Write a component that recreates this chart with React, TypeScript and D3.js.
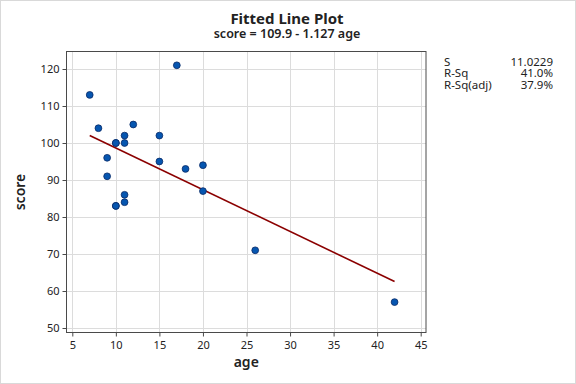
import React, { useEffect, useRef } from 'react';
import * as d3 from 'd3';

// age at first word vs. score
const ages = [15, 26, 10, 9, 15, 20, 18, 11, 8, 20, 7, 9, 10, 11, 11, 10, 12, 42, 17, 11, 10];
const scores = [95, 71, 83, 91, 102, 87, 93, 100, 104, 94, 113, 96, 83, 84, 102, 100, 105, 57, 121, 86, 100];
const xTicks = [5, 10, 15, 20, 25, 30, 35, 40, 45];
const yTicks = [50, 60, 70, 80, 90, 100, 110, 120];
const intercept = 109.9;
const slope = -1.127;
const statLabels = ['S', 'R-Sq', 'R-Sq(adj)'];
const statValues = ['11.0229', '41.0%', '37.9%'];

const W = 576;
const H = 384;
const font = "'Noto Sans', 'Open Sans', sans-serif";

const App = () => {
  const svgRef = useRef<SVGSVGElement>(null);

  useEffect(() => {
    const svg = d3.select(svgRef.current);
    svg.selectAll('*').remove();

    const left = 66.5;
    const right = 426;
    const top = 51.5;
    const bottom = 332.5;

    const x = d3.scaleLinear().domain([5, 45]).range([72.3, 420.7]);
    const y = d3.scaleLinear().domain([50, 120]).range([328, 69]);

    svg.append('rect')
      .attr('x', 0.5).attr('y', 0.5).attr('width', W - 1).attr('height', H - 1)
      .attr('fill', 'white').attr('stroke', '#d9d9d9');

    // grid
    const grid = svg.append('g').attr('stroke', '#dcdcdc').attr('stroke-width', 1);
    xTicks.forEach((t) => {
      grid.append('line')
        .attr('x1', Math.round(x(t)) + 0.5).attr('x2', Math.round(x(t)) + 0.5)
        .attr('y1', top).attr('y2', bottom);
    });
    yTicks.forEach((t) => {
      grid.append('line')
        .attr('x1', left).attr('x2', right)
        .attr('y1', Math.round(y(t)) + 0.5).attr('y2', Math.round(y(t)) + 0.5);
    });

    // frame
    svg.append('rect')
      .attr('x', left).attr('y', top).attr('width', right - left).attr('height', bottom - top)
      .attr('fill', 'none').attr('stroke', '#4a4a4a').attr('stroke-width', 1);

    // axes
    const xAxis = d3.axisBottom(x).tickValues(xTicks).tickSize(4).tickSizeOuter(0);
    const yAxis = d3.axisLeft(y).tickValues(yTicks).tickSize(4).tickSizeOuter(0);
    const gx = svg.append('g').attr('transform', `translate(0,${bottom})`).call(xAxis);
    const gy = svg.append('g').attr('transform', `translate(${left},0)`).call(yAxis);
    [gx, gy].forEach((g) => {
      g.select('.domain').remove();
      g.selectAll('line').attr('stroke', '#4a4a4a');
      g.selectAll('text').attr('font-family', font).attr('font-size', 11).attr('fill', '#222');
    });
    gx.selectAll('text').attr('dy', '0.9em');

    // fitted line
    const ext = d3.extent(ages) as [number, number];
    const line = d3.line<number>().x((d) => x(d)).y((d) => y(intercept + slope * d));
    svg.append('path')
      .attr('d', line(ext))
      .attr('fill', 'none').attr('stroke', '#8b0000').attr('stroke-width', 1.6);

    // points
    svg.append('g').selectAll('circle')
      .data(ages.map((a, i) => [a, scores[i]]))
      .join('circle')
      .attr('cx', (d) => x(d[0])).attr('cy', (d) => y(d[1])).attr('r', 3.4)
      .attr('fill', '#0656b0').attr('stroke', '#0a2a66').attr('stroke-width', 0.8);

    // titles
    svg.append('text').attr('x', 287).attr('y', 24).attr('text-anchor', 'middle')
      .attr('font-family', font).attr('font-size', 15).attr('font-weight', 'bold').attr('fill', '#222')
      .text('Fitted Line Plot');
    svg.append('text').attr('x', 287).attr('y', 38).attr('text-anchor', 'middle')
      .attr('font-family', font).attr('font-size', 12.5).attr('font-weight', 600).attr('fill', '#222')
      .text(`score = ${intercept} - ${Math.abs(slope)} age`);

    svg.append('text').attr('x', (left + right) / 2).attr('y', 367).attr('text-anchor', 'middle')
      .attr('font-family', font).attr('font-size', 14).attr('font-weight', 600).attr('fill', '#222')
      .text('age');
    svg.append('text')
      .attr('transform', `translate(25,${(top + bottom) / 2}) rotate(-90)`)
      .attr('text-anchor', 'middle')
      .attr('font-family', font).attr('font-size', 14).attr('font-weight', 600).attr('fill', '#222')
      .text('score');

    // stats table, one text per column
    const labelCol = svg.append('text').attr('font-family', font).attr('font-size', 11.5).attr('fill', '#222');
    labelCol.selectAll('tspan').data(statLabels).join('tspan')
      .attr('x', 444).attr('y', (_, i) => 65.5 + i * 11.6).text((d) => d);
    const valueCol = svg.append('text').attr('font-family', font).attr('font-size', 11.5).attr('fill', '#222')
      .attr('text-anchor', 'end');
    valueCol.selectAll('tspan').data(statValues).join('tspan')
      .attr('x', 553).attr('y', (_, i) => 65.5 + i * 11.6).text((d) => d);
  }, []);

  return (
    <div style={{ position: 'absolute', left: 0, top: 0 }}>
      <svg ref={svgRef} width={W} height={H} style={{ display: 'block' }}></svg>
    </div>
  );
};

export default App;
